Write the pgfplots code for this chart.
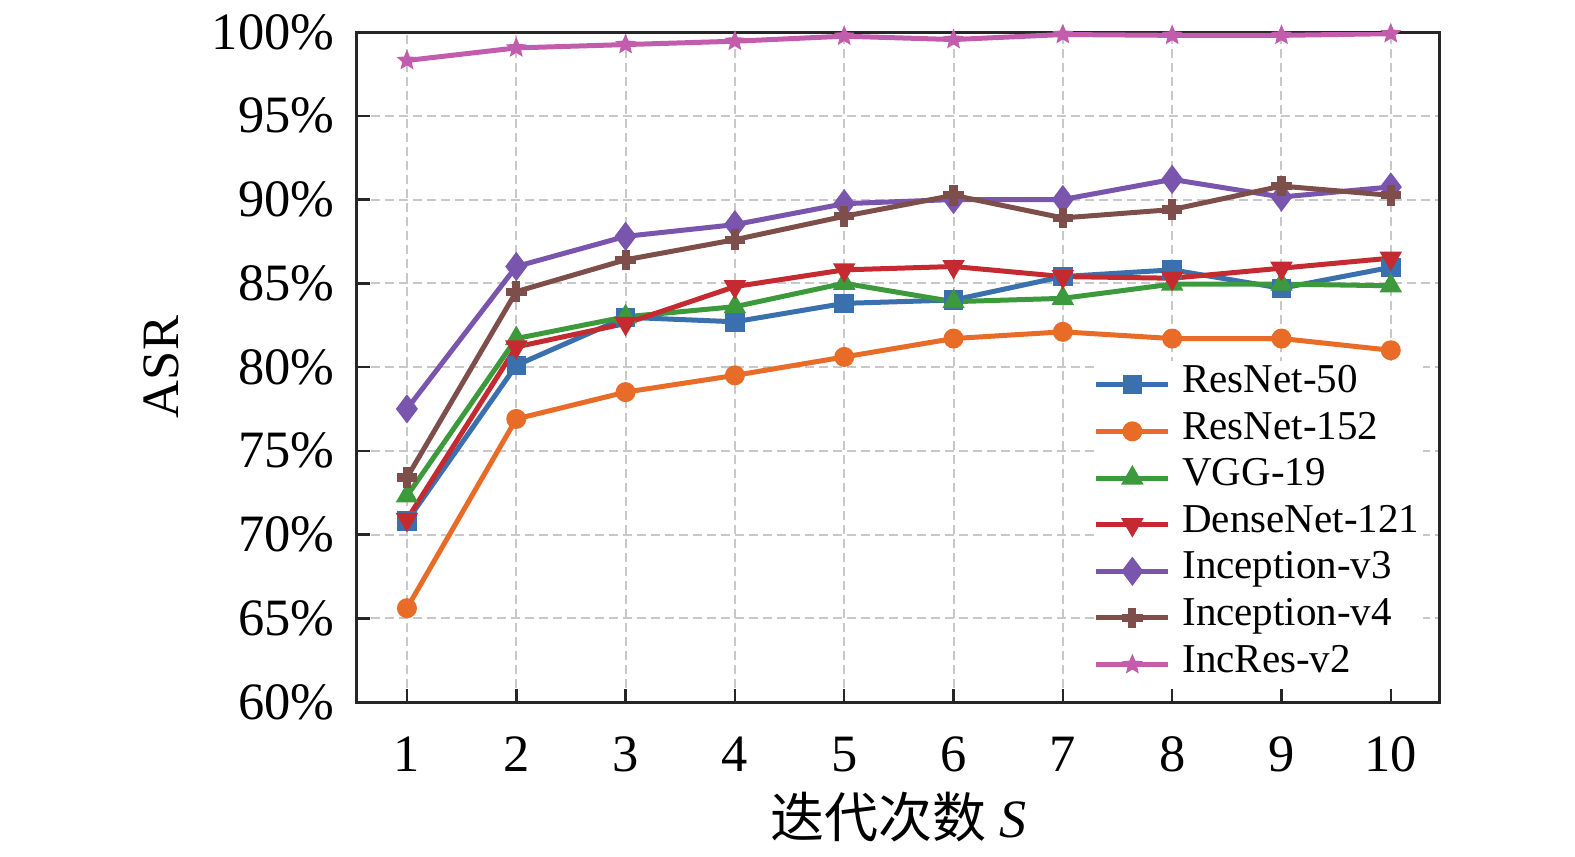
\documentclass[border=0pt]{standalone}
\usepackage{fontspec}
\setmainfont{Liberation Serif}
\newfontfamily\cjk{Noto Sans CJK SC}
\usepackage{pgfplots}
\pgfplotsset{compat=1.18}
\usetikzlibrary{plotmarks}
\definecolor{cBlue}{HTML}{3A70AE}
\definecolor{cOrange}{HTML}{E86C28}
\definecolor{cGreen}{HTML}{3C9A3C}
\definecolor{cRed}{HTML}{C42A30}
\definecolor{cPurple}{HTML}{7A55AE}
\definecolor{cBrown}{HTML}{7E4E4B}
\definecolor{cPink}{HTML}{C25CAC}
\definecolor{cGrid}{HTML}{C8C8C8}
\pgfdeclareplotmark{fstar}{%
  \pgfpathmoveto{\pgfpointpolar{90}{\pgfplotmarksize}}%
  \pgfpathlineto{\pgfpointpolar{126}{0.45\pgfplotmarksize}}%
  \pgfpathlineto{\pgfpointpolar{162}{\pgfplotmarksize}}%
  \pgfpathlineto{\pgfpointpolar{198}{0.45\pgfplotmarksize}}%
  \pgfpathlineto{\pgfpointpolar{234}{\pgfplotmarksize}}%
  \pgfpathlineto{\pgfpointpolar{270}{0.45\pgfplotmarksize}}%
  \pgfpathlineto{\pgfpointpolar{306}{\pgfplotmarksize}}%
  \pgfpathlineto{\pgfpointpolar{342}{0.45\pgfplotmarksize}}%
  \pgfpathlineto{\pgfpointpolar{18}{\pgfplotmarksize}}%
  \pgfpathlineto{\pgfpointpolar{54}{0.45\pgfplotmarksize}}%
  \pgfpathclose\pgfusepathqfillstroke}
\pgfdeclareplotmark{fplus}{%
  \pgfpathmoveto{\pgfpoint{-0.35\pgfplotmarksize}{-\pgfplotmarksize}}%
  \pgfpathlineto{\pgfpoint{0.35\pgfplotmarksize}{-\pgfplotmarksize}}%
  \pgfpathlineto{\pgfpoint{0.35\pgfplotmarksize}{-0.35\pgfplotmarksize}}%
  \pgfpathlineto{\pgfpoint{\pgfplotmarksize}{-0.35\pgfplotmarksize}}%
  \pgfpathlineto{\pgfpoint{\pgfplotmarksize}{0.35\pgfplotmarksize}}%
  \pgfpathlineto{\pgfpoint{0.35\pgfplotmarksize}{0.35\pgfplotmarksize}}%
  \pgfpathlineto{\pgfpoint{0.35\pgfplotmarksize}{\pgfplotmarksize}}%
  \pgfpathlineto{\pgfpoint{-0.35\pgfplotmarksize}{\pgfplotmarksize}}%
  \pgfpathlineto{\pgfpoint{-0.35\pgfplotmarksize}{0.35\pgfplotmarksize}}%
  \pgfpathlineto{\pgfpoint{-\pgfplotmarksize}{0.35\pgfplotmarksize}}%
  \pgfpathlineto{\pgfpoint{-\pgfplotmarksize}{-0.35\pgfplotmarksize}}%
  \pgfpathlineto{\pgfpoint{-0.35\pgfplotmarksize}{-0.35\pgfplotmarksize}}%
  \pgfpathclose\pgfusepathqfillstroke}
\begin{document}
\begin{tikzpicture}
\path[use as bounding box] (-71.4pt,-30.8pt) rectangle (243.6pt,140.4pt);
\begin{axis}[
  at={(0,0)}, anchor=south west,
  scale only axis, width=216.6pt, height=134pt,
  xmin=0.543, xmax=10.45, ymin=60, ymax=100,
  xtick={1,2,3,4,5,6,7,8,9,10},
  xticklabels={1,2,3,4,5,6,7,8,9,10},
  ytick={60,65,70,75,80,85,90,95,100},
  yticklabels={60\%,65\%,70\%,75\%,80\%,85\%,90\%,95\%,100\%},
  tick pos=left, tick align=inside, major tick length=2.6pt,
  tick style={line width=0.5pt, color=black!85},
  axis line style={line width=0.6pt, color=black!85},
  grid=major,
  major grid style={line width=0.4pt, color=cGrid, dash pattern=on 1.8pt off 1pt},
  ticklabel style={font=\fontsize{10.5}{12}\selectfont},
  yticklabel style={xshift=-1pt},
  xticklabel style={yshift=-3.4pt},
  xlabel={{\cjk 迭代次数} \textit{S}},
  xlabel style={at={(axis description cs:0.5,-0.172)}, anchor=center, font=\fontsize{10.8}{12}\selectfont},
  ylabel={ASR},
  ylabel style={at={(axis description cs:-0.1806,0.5)}, anchor=center, rotate=0, font=\fontsize{10.5}{12}\selectfont},
  legend style={at={(0.9854,0.0195)}, anchor=south east, draw=none, fill=white,
    font=\fontsize{8.2}{9}\selectfont, inner sep=0pt,
    nodes={text height=5.4pt, text depth=2.33pt, inner sep=0.8pt},
    /tikz/every odd column/.append style={column sep=1.5pt}},
  legend cell align=left,
  legend image code/.code={\draw[mark repeat=2,mark phase=2,#1] plot coordinates {(0pt,0pt) (7.2pt,0pt) (14.4pt,0pt)};},
  every axis plot/.append style={line width=1pt},
]
\addplot[color=cBlue, mark=square*, mark size=1.75pt, mark options={solid, fill=cBlue, line width=0.4pt}] coordinates {
(1,70.8) (2,80.1) (3,82.97) (4,82.7) (5,83.8) (6,84.0) (7,85.4) (8,85.8) (9,84.7) (10,85.95)};
\addlegendentry{ResNet-50}
\addplot[color=cOrange, mark=*, mark size=1.8pt, mark options={solid, fill=cOrange, line width=0.4pt}] coordinates {
(1,65.6) (2,76.9) (3,78.5) (4,79.5) (5,80.6) (6,81.7) (7,82.1) (8,81.7) (9,81.7) (10,81.0)};
\addlegendentry{ResNet-152}
\addplot[color=cGreen, mark=triangle*, mark size=2.2pt, mark options={solid, fill=cGreen, line width=0.4pt}] coordinates {
(1,72.3) (2,81.7) (3,83.0) (4,83.6) (5,85.0) (6,83.9) (7,84.1) (8,84.95) (9,84.95) (10,84.85)};
\addlegendentry{VGG-19}
\addplot[color=cRed, mark=triangle*, mark size=2.2pt, mark options={solid, fill=cRed, line width=0.4pt, rotate=180}] coordinates {
(1,70.9) (2,81.2) (3,82.6) (4,84.8) (5,85.8) (6,86.0) (7,85.4) (8,85.3) (9,85.9) (10,86.5)};
\addlegendentry{DenseNet-121}
\addplot[color=cPurple, mark=diamond*, mark size=2.6pt, mark options={solid, fill=cPurple, line width=0.4pt}] coordinates {
(1,77.5) (2,86.0) (3,87.8) (4,88.5) (5,89.75) (6,90.0) (7,90.0) (8,91.2) (9,90.15) (10,90.75)};
\addlegendentry{Inception-v3}
\addplot[color=cBrown, mark=fplus, mark size=1.9pt, mark options={solid, fill=cBrown, line width=0.3pt}] coordinates {
(1,73.4) (2,84.5) (3,86.4) (4,87.6) (5,89.0) (6,90.25) (7,88.9) (8,89.4) (9,90.8) (10,90.25)};
\addlegendentry{Inception-v4}
\addplot[color=cPink, mark=fstar, mark size=1.8pt, mark options={solid, fill=cPink, line width=0.3pt}] coordinates {
(1,98.3) (2,99.05) (3,99.25) (4,99.45) (5,99.75) (6,99.55) (7,99.85) (8,99.8) (9,99.8) (10,99.9)};
\addlegendentry{IncRes-v2}
\end{axis}
\end{tikzpicture}
\end{document}
